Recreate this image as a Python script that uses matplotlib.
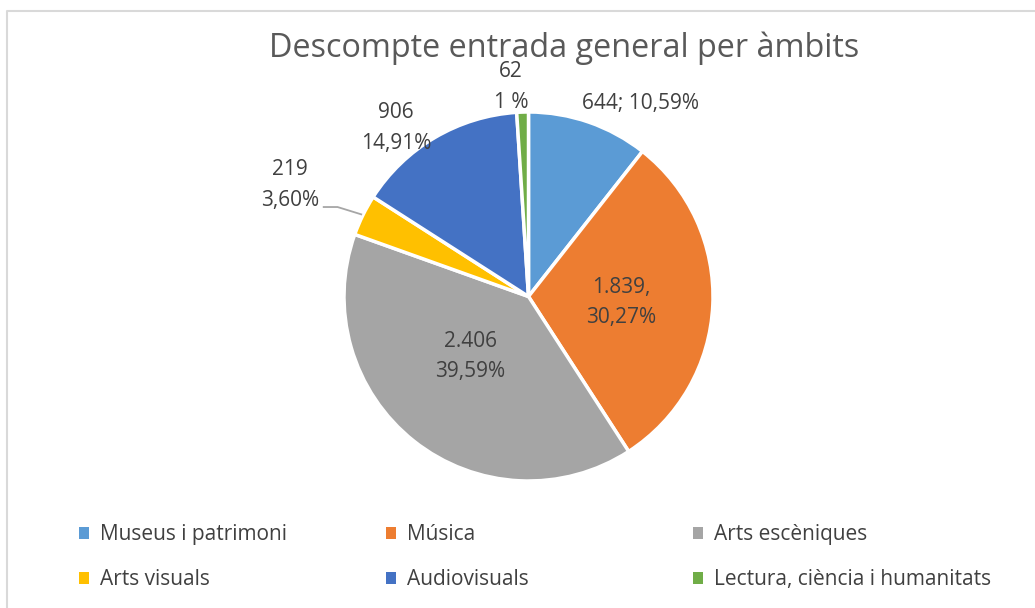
import matplotlib
matplotlib.use("Agg")
import matplotlib.pyplot as plt
import numpy as np
from matplotlib.patches import Patch
from matplotlib.legend import Legend

plt.rcParams["font.family"] = ["Open Sans", "DejaVu Sans"]

categories = ["Museus i patrimoni", "Música", "Arts escèniques",
              "Arts visuals", "Audiovisuals", "Lectura, ciència i humanitats"]
values = [644, 1839, 2406, 219, 906, 62]
value_labels = ["644; 10,59%", "1.839,\n30,27%", "2.406\n39,59%",
                "219\n3,60%", "906\n14,91%", "62\n1 %"]
colors = ["#5B9BD5", "#ED7D31", "#A5A5A5", "#FFC000", "#4472C4", "#70AD47"]

# layout (pixel canvas, y up)
W, H = 1035, 608
cx, cy, R = 528.5, 311.5, 184.5
label_pos = [(0.606, 1.046), (0.501, -0.033), (-0.317, -0.325),
             (-1.293, 0.604), (-0.718, 0.913), (-0.095, 1.135)]
text_col = "#404040"

fig = plt.figure(figsize=(W / 100, H / 100), dpi=100)
ax = fig.add_axes([0, 0, 1, 1])

wedges, _ = ax.pie(values, colors=colors, startangle=90, counterclock=False,
                   center=(cx, cy), radius=R,
                   wedgeprops=dict(edgecolor="white", linewidth=2.5))

for (dx, dy), txt in zip(label_pos, value_labels):
    ax.text(cx + dx * R, cy + dy * R, txt, ha="center", va="center",
            fontsize=15, color=text_col, linespacing=1.6)

# leader line for Arts visuals
w = wedges[3]
mid = np.deg2rad((w.theta1 + w.theta2) / 2)
ex, ey = cx + 1.01 * R * np.cos(mid), cy + 1.01 * R * np.sin(mid)
ax.plot([cx - 1.11 * R, cx - 1.035 * R, ex],
        [cy + 0.485 * R, cy + 0.485 * R, ey], color="#A6A6A6", lw=1.3)

ax.text(564, H - 57, "Descompte entrada general per àmbits", ha="center",
        va="baseline", fontsize=23.3, color="#595959")

# legend: three columns of two entries
handles = [Patch(facecolor=c) for c in colors]
col_x = [79, 386, 693]
for i, x in enumerate(col_x):
    leg = Legend(ax, [handles[i], handles[i + 3]],
                 [categories[i], categories[i + 3]],
                 loc="upper left", bbox_to_anchor=(x, 84),
                 bbox_transform=ax.transData, frameon=False,
                 fontsize=15, labelcolor=text_col,
                 handlelength=0.5, handleheight=0.5,
                 handletextpad=0.5, labelspacing=1.15, borderpad=0,
                 borderaxespad=0)
    ax.add_artist(leg)

# chart border
ax.plot([7, 7, W + 5], [-5, H - 11, H - 11], color="#D9D9D9", lw=1.5)

ax.set_xlim(0, W)
ax.set_ylim(0, H)
ax.axis("off")

fig.savefig("out.png", dpi=100)
